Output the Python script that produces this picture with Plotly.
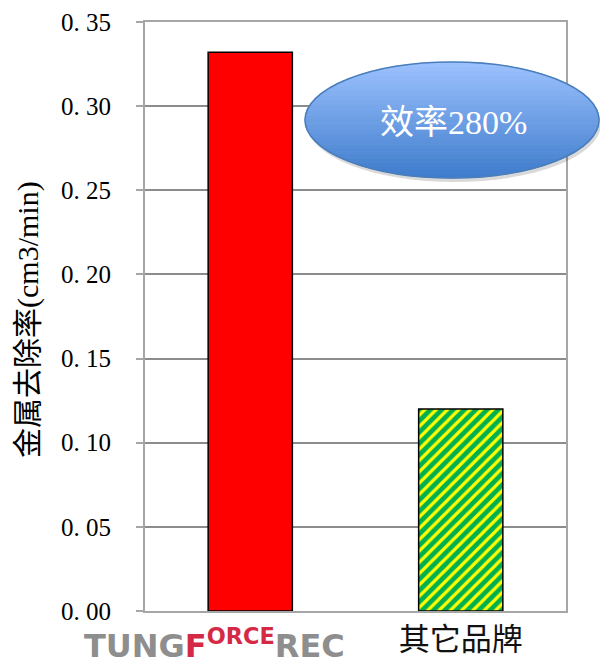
import plotly.graph_objects as go
import numpy as np

categories = ["TungForce Rec", "其它品牌"]
values = [0.332, 0.120]
tick_vals = [0.0, 0.05, 0.10, 0.15, 0.20, 0.25, 0.30, 0.35]
tick_text = ["0. 00", "0. 05", "0. 10", "0. 15", "0. 20", "0. 25", "0. 30", "0. 35"]
x_tick_text = ["", "其它品牌"]
logo_text = ("<span style='color:#8e8e8e'><b>TUNG</b></span>"
             "<span style='color:#d42a45'><b>F</b><sup style='font-size:11px'><b>ORCE</b></sup></span>"
             "<span style='color:#8e8e8e'><b>REC</b></span>")
y_title = "金属去除率(cm3/min)"
badge_text = "效率280%"

W, H = 600, 664
L, R, T, B = 145, 34, 22, 53
pw, ph = W - L - R, H - T - B

def px(x):
    return (x - L) / pw

def py(y):
    return (H - B - y) / ph

fig = go.Figure()
fig.add_trace(go.Bar(x=[categories[0]], y=[values[0]], width=0.4,
                     marker=dict(color="#ff0000", line=dict(color="#000000", width=1.5)),
                     showlegend=False))
fig.add_trace(go.Bar(x=[categories[1]], y=[values[1]], width=0.4,
                     marker=dict(color="#00b050", line=dict(color="#000000", width=1.5),
                                 pattern=dict(shape="/", bgcolor="#00b050", fgcolor="#ffff00",
                                              size=8, solidity=0.4, fillmode="replace")),
                     showlegend=False))

# Ellipse badge with vertical gradient (decoration)
cx, cy, rx, ry = 452, 120, 147, 58
shapes = []
shapes.append(dict(type="circle", xref="paper", yref="paper",
                   x0=px(cx - rx + 2), x1=px(cx + rx + 2), y0=py(cy + ry + 4), y1=py(cy - ry + 4),
                   fillcolor="rgba(0,0,0,0.15)", line=dict(width=0), layer="above"))
nb = 24
top_col = np.array([0x9d, 0xc3, 0xff])
bot_col = np.array([0x3f, 0x7c, 0xcc])
for i in range(nb):
    y0 = cy - ry + 2 * ry * i / nb
    y1 = cy - ry + 2 * ry * (i + 1) / nb
    ys = np.linspace(y0, y1, 6)
    def xh(y):
        t = max(0.0, 1 - ((y - cy) / ry) ** 2)
        return rx * np.sqrt(t)
    pts = [(cx + xh(y), y) for y in ys] + [(cx - xh(y), y) for y in ys[::-1]]
    path = "M " + " L ".join(f"{px(a):.5f},{py(b):.5f}" for a, b in pts) + " Z"
    f = (i + 0.5) / nb
    c = top_col * (1 - f) + bot_col * f
    col = f"rgb({int(c[0])},{int(c[1])},{int(c[2])})"
    shapes.append(dict(type="path", xref="paper", yref="paper", path=path,
                       fillcolor=col, line=dict(width=0.8, color=col), layer="above"))
shapes.append(dict(type="circle", xref="paper", yref="paper",
                   x0=px(cx - rx), x1=px(cx + rx), y0=py(cy + ry), y1=py(cy - ry),
                   fillcolor="rgba(0,0,0,0)", line=dict(width=1.5, color="#4a7ebb"), layer="above"))

fig.update_layout(
    width=W, height=H,
    margin=dict(l=L, r=R, t=T, b=B, autoexpand=False),
    paper_bgcolor="white", plot_bgcolor="white",
    font=dict(family="Liberation Serif, Noto Sans CJK SC", color="#000000"),
    shapes=shapes,
    annotations=[
        dict(text=badge_text, xref="paper", yref="paper", x=px(cx + 1), y=py(cy + 2),
             xanchor="center", yanchor="middle", showarrow=False,
             font=dict(size=34, color="white", family="Liberation Serif, Noto Sans CJK SC")),
        dict(text=y_title, xref="paper", yref="paper", x=px(28), y=py(320), textangle=-90,
             xanchor="center", yanchor="middle", showarrow=False,
             font=dict(size=30, color="black", family="Liberation Serif, Noto Sans CJK SC")),
        dict(text=logo_text, xref="paper", yref="paper", x=px(214), y=py(644),
             xanchor="center", yanchor="middle", showarrow=False,
             font=dict(size=32, family="DejaVu Sans")),
    ],
)
fig.update_xaxes(type="category", tickvals=categories, ticktext=x_tick_text,
                 tickfont=dict(size=31, family="Noto Sans CJK SC", color="#111111"),
                 automargin=False,
                 showline=True, linecolor="#a6a6a6", linewidth=2, mirror=True,
                 ticks="", showgrid=False)
fig.update_yaxes(range=[0, 0.35], tickvals=tick_vals, ticktext=tick_text,
                 tickfont=dict(size=25, family="Liberation Serif"),
                 ticklabelstandoff=20, automargin=False,
                 showline=True, linecolor="#a6a6a6", linewidth=2, mirror=True,
                 ticks="outside", ticklen=7, tickcolor="#a6a6a6", tickwidth=2,
                 gridcolor="#8c8c8c", gridwidth=1.5, zeroline=False)

fig.write_html("out.html")
